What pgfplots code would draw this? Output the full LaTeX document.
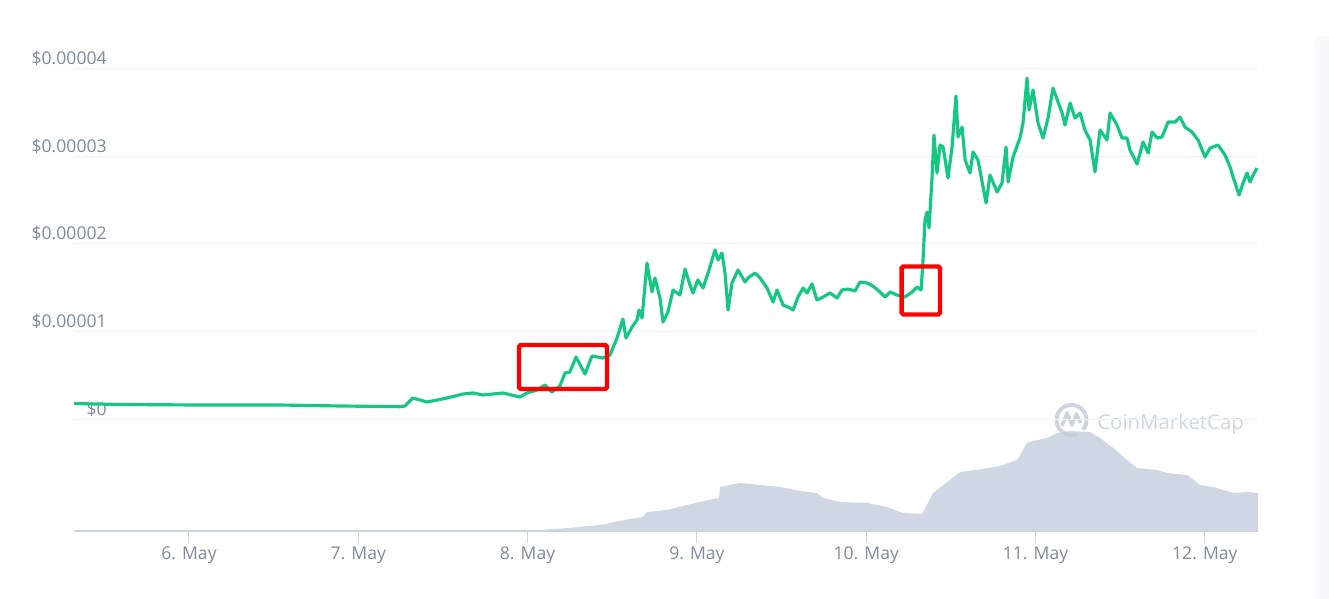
\documentclass[border=0pt]{standalone}
\usepackage{fontspec}
\setmainfont{Open Sans}
\usepackage{pgfplots}
\pgfplotsset{compat=1.18}

\definecolor{cmcgreen}{HTML}{16C784}
\definecolor{volfill}{HTML}{CFD6E4}
\definecolor{gridc}{HTML}{EFF2F5}
\definecolor{axisc}{HTML}{CCD3DF}
\definecolor{labelc}{HTML}{808A9D}
\definecolor{sidec}{HTML}{F8F9FC}
\definecolor{wmark}{HTML}{C5CDDA}

\begin{document}
\begin{tikzpicture}
% canvas: 1 px of the screenshot = 0.02cm, origin at the plot's bottom-left corner
\fill[white] (-1.48,-1.36) rectangle (25.10,10.62);
\fill[sidec] (24.82,-1.36) rectangle (25.10,9.9);

% --- volume (background area, own scale) ---
\begin{axis}[
    at={(0,0)}, anchor=south west,
    width=23.68cm, height=9.88cm, scale only axis,
    xmin=5.321, xmax=12.314, ymin=0, ymax=494,
    hide axis,
]
\addplot[fill=volfill, draw=none] coordinates {
(8.014,0) (8.073,1) (8.250,3) (8.428,6) (8.605,12) (8.682,14) (8.705,19) (8.823,21)
(8.942,26) (9.095,32) (9.131,33) (9.136,44) (9.255,48) (9.373,46) (9.491,44) (9.609,40)
(9.709,38) (9.745,33) (9.845,29) (10.005,28) (10.123,24) (10.217,18) (10.330,17) (10.395,38)
(10.495,51) (10.554,59) (10.690,62) (10.790,65) (10.891,71) (10.950,88) (10.985,90) (11.068,93)
(11.127,98) (11.204,100) (11.322,99) (11.381,93) (11.458,83) (11.540,71) (11.600,63) (11.718,61)
(11.777,58) (11.895,56) (11.972,46) (12.048,44) (12.167,38) (12.249,39) (12.314,38)
} \closedcycle;
\end{axis}

% watermark
\begin{scope}[wmark, opacity=0.85]
\draw[line width=2.2pt] (19.95,2.22) ++(-40:0.3) arc (-40:290:0.3);
\draw[line width=2pt, line join=round] (19.76,2.10) -- (19.86,2.36) -- (19.96,2.12) -- (20.05,2.34) -- (20.13,2.16);
\node[anchor=base west, inner sep=0, font=\fontsize{11.6}{13}\selectfont] at (20.46,2.03) {CoinMarketCap};
\end{scope}

% --- price ---
\begin{axis}[
    at={(0,0)}, anchor=south west,
    width=23.68cm, height=9.88cm, scale only axis,
    xmin=5.321, xmax=12.314, ymin=-1.270, ymax=4.357,
    axis x line*=bottom, axis y line*=left,
    x axis line style={axisc, line width=0.6pt, -},
    y axis line style={draw=none},
    xtick={6,7,8,9,10,11,12},
    xticklabels={6. May, 7. May, 8. May, 9. May, 10. May, 11. May, 12. May},
    xtick style={axisc, line width=0.6pt},
    tick align=outside, major tick length=0.24cm,
    ytick={0,1,2,3,4},
    yticklabels={\$0, \$0.00001, \$0.00002, \$0.00003, \$0.00004},
    ytick style={draw=none},
    ymajorgrids, grid style={gridc, line width=0.6pt},
    every tick label/.append style={font=\fontsize{10}{12}\selectfont, text=labelc, inner sep=0pt},
    yticklabel style={anchor=base east, xshift=0.90cm, yshift=0.08cm},
    xticklabel style={anchor=base, yshift=-0.34cm},
]
\addplot[cmcgreen, line width=1.8pt, line join=round] coordinates {
(5.321,0.182) (5.592,0.171) (6.065,0.165) (6.538,0.165) (6.892,0.154) (7.246,0.146) (7.276,0.154)
(7.323,0.245) (7.406,0.199) (7.524,0.245) (7.618,0.290) (7.677,0.302) (7.737,0.279) (7.855,0.302)
(7.955,0.256) (7.996,0.302) (8.056,0.336) (8.103,0.393) (8.144,0.313) (8.191,0.382) (8.221,0.530)
(8.250,0.541) (8.286,0.712) (8.339,0.518) (8.380,0.723) (8.445,0.700) (8.487,0.735) (8.528,0.928)
(8.563,1.145) (8.581,0.928) (8.617,1.054) (8.646,1.133) (8.658,1.247) (8.676,1.156) (8.705,1.782)
(8.735,1.452) (8.752,1.612) (8.782,1.384) (8.800,1.110) (8.829,1.224) (8.859,1.475) (8.900,1.418)
(8.930,1.714) (8.959,1.532) (8.977,1.441) (9.006,1.589) (9.036,1.498) (9.066,1.669) (9.107,1.931)
(9.125,1.817) (9.148,1.896) (9.166,1.669) (9.184,1.247) (9.207,1.555) (9.243,1.703) (9.284,1.566)
(9.302,1.612) (9.343,1.669) (9.373,1.612) (9.414,1.498) (9.450,1.338) (9.473,1.475) (9.509,1.304)
(9.550,1.270) (9.568,1.247) (9.597,1.395) (9.627,1.498) (9.650,1.441) (9.680,1.543) (9.709,1.361)
(9.745,1.395) (9.786,1.441) (9.828,1.384) (9.857,1.475) (9.892,1.486) (9.934,1.464) (9.963,1.566)
(10.005,1.555) (10.040,1.520) (10.081,1.452) (10.111,1.395) (10.141,1.452) (10.182,1.418) (10.229,1.395)
(10.271,1.452) (10.300,1.509) (10.324,1.475) (10.335,1.794) (10.347,2.272) (10.359,2.363) (10.371,2.181)
(10.389,2.762) (10.400,3.240) (10.418,2.808) (10.436,3.126) (10.454,3.104) (10.483,2.751) (10.507,3.104)
(10.530,3.684) (10.542,3.218) (10.566,3.331) (10.584,2.956) (10.613,2.808) (10.631,3.047) (10.660,2.956)
(10.708,2.466) (10.731,2.785) (10.773,2.591) (10.802,2.694) (10.826,3.104) (10.838,2.705) (10.867,2.990)
(10.908,3.206) (10.926,3.377) (10.950,3.889) (10.962,3.525) (10.985,3.753) (11.015,3.377) (11.044,3.206)
(11.074,3.434) (11.103,3.776) (11.133,3.616) (11.157,3.491) (11.174,3.354) (11.204,3.605) (11.233,3.434)
(11.263,3.491) (11.292,3.297) (11.322,3.183) (11.351,2.819) (11.381,3.297) (11.422,3.183) (11.440,3.491)
(11.481,3.354) (11.511,3.206) (11.540,3.206) (11.558,3.069) (11.600,2.910) (11.635,3.161) (11.665,3.035)
(11.688,3.274) (11.718,3.206) (11.747,3.218) (11.783,3.388) (11.824,3.388) (11.853,3.445) (11.883,3.331)
(11.924,3.274) (11.960,3.183) (12.001,2.990) (12.031,3.092) (12.078,3.126) (12.119,3.013) (12.149,2.876)
(12.167,2.762) (12.202,2.557) (12.226,2.694) (12.249,2.808) (12.267,2.705) (12.285,2.785) (12.308,2.864)
};
% red highlight boxes
\draw[red, line width=2.5pt, rounded corners=1pt] (axis cs:7.949,0.347) rectangle (axis cs:8.469,0.849);
\draw[red, line width=2.5pt, rounded corners=1pt] (axis cs:10.209,1.196) rectangle (axis cs:10.436,1.743);
\end{axis}
\end{tikzpicture}
\end{document}
